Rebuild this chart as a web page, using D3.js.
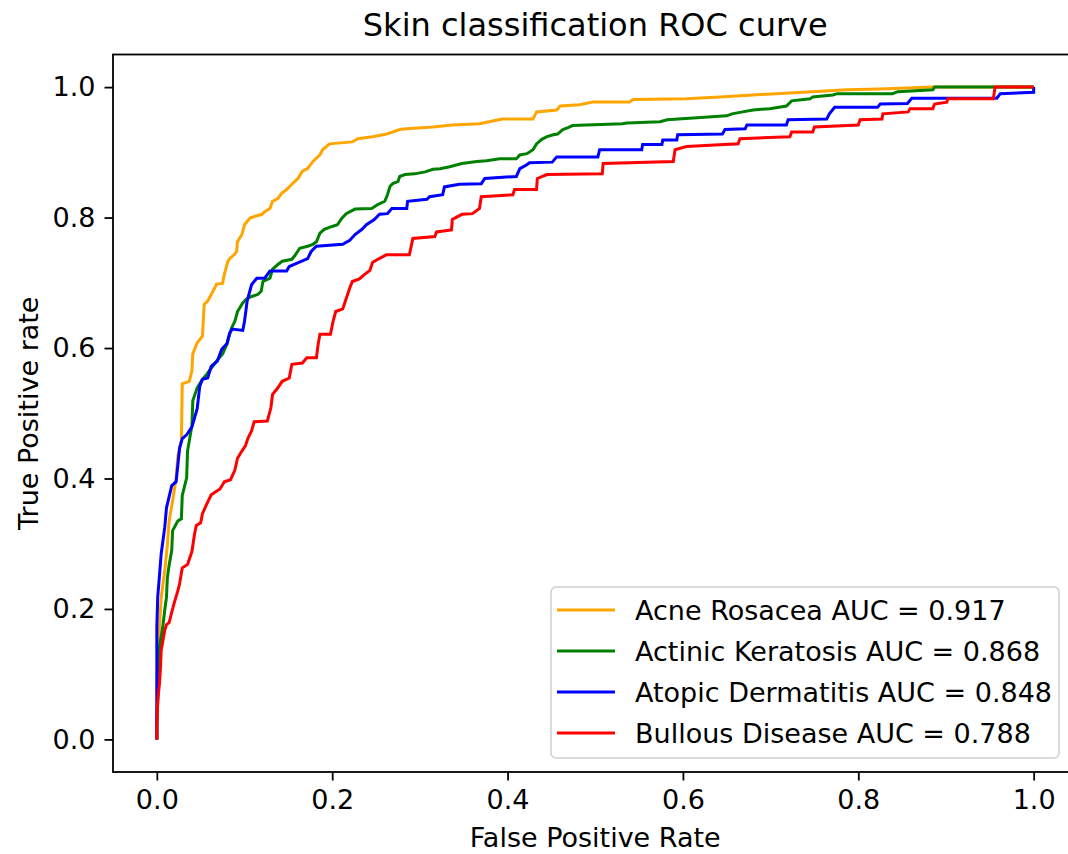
<!DOCTYPE html>
<html>
<head>
<meta charset="utf-8">
<script src="https://cdn.jsdelivr.net/npm/d3@7"></script>
<style>
    body { margin: 0; background: #fff; }
    svg text { font-family: "DejaVu Sans", sans-serif; fill: #000; }
</style>
</head>
<body>
<div id="chart"></div>
<script>
// ROC points, [false positive rate, true positive rate]
const acneRosacea = [
    [0, 0], [0, 0.060], [0.001, 0.121], [0.003, 0.172], [0.005, 0.218], [0.009, 0.259],
    [0.012, 0.297], [0.014, 0.335], [0.018, 0.366], [0.022, 0.400], [0.024, 0.435],
    [0.028, 0.458], [0.029, 0.545], [0.037, 0.549], [0.040, 0.565], [0.041, 0.591],
    [0.046, 0.608], [0.052, 0.618], [0.054, 0.667], [0.058, 0.672], [0.066, 0.692],
    [0.068, 0.698], [0.075, 0.699], [0.077, 0.713], [0.081, 0.733], [0.083, 0.737],
    [0.089, 0.744], [0.091, 0.748], [0.092, 0.763], [0.097, 0.774], [0.100, 0.789],
    [0.106, 0.799], [0.112, 0.802], [0.120, 0.805], [0.123, 0.809], [0.129, 0.814],
    [0.132, 0.825], [0.138, 0.829], [0.142, 0.837], [0.148, 0.843], [0.154, 0.851],
    [0.161, 0.860], [0.166, 0.871], [0.172, 0.875], [0.178, 0.886], [0.186, 0.896],
    [0.189, 0.904], [0.197, 0.913], [0.223, 0.916], [0.229, 0.921], [0.246, 0.924],
    [0.262, 0.928], [0.277, 0.935], [0.285, 0.936], [0.315, 0.939], [0.337, 0.942],
    [0.368, 0.944], [0.383, 0.948], [0.394, 0.951], [0.429, 0.951], [0.433, 0.962],
    [0.456, 0.965], [0.460, 0.971], [0.482, 0.973], [0.497, 0.977], [0.539, 0.977],
    [0.543, 0.981], [0.604, 0.982], [0.642, 0.985], [0.680, 0.988], [0.722, 0.991],
    [0.787, 0.996], [0.825, 0.997], [0.885, 1.0], [1, 1]
];

const actinicKeratosis = [
    [0, 0], [0, 0.030], [0.001, 0.055], [0.003, 0.121], [0.003, 0.141], [0.007, 0.175],
    [0.009, 0.198], [0.011, 0.218], [0.012, 0.248], [0.014, 0.267], [0.017, 0.290],
    [0.018, 0.320], [0.024, 0.335], [0.028, 0.338], [0.029, 0.374], [0.034, 0.401],
    [0.035, 0.442], [0.040, 0.481], [0.041, 0.519], [0.046, 0.539], [0.052, 0.552],
    [0.057, 0.560], [0.062, 0.569], [0.068, 0.580], [0.075, 0.591], [0.080, 0.606],
    [0.085, 0.630], [0.089, 0.641], [0.092, 0.656], [0.098, 0.669], [0.102, 0.675],
    [0.108, 0.679], [0.115, 0.682], [0.119, 0.687], [0.121, 0.702], [0.129, 0.707],
    [0.132, 0.721], [0.138, 0.728], [0.143, 0.733], [0.154, 0.736], [0.157, 0.741],
    [0.163, 0.753], [0.172, 0.756], [0.178, 0.759], [0.182, 0.763], [0.186, 0.776],
    [0.191, 0.782], [0.199, 0.786], [0.206, 0.789], [0.211, 0.799], [0.216, 0.806],
    [0.226, 0.813], [0.245, 0.814], [0.252, 0.820], [0.260, 0.825], [0.263, 0.835],
    [0.266, 0.848], [0.269, 0.852], [0.275, 0.855], [0.277, 0.863], [0.283, 0.866],
    [0.294, 0.867], [0.306, 0.870], [0.315, 0.874], [0.323, 0.875], [0.334, 0.878],
    [0.348, 0.883], [0.365, 0.886], [0.376, 0.887], [0.391, 0.890], [0.410, 0.890],
    [0.414, 0.896], [0.422, 0.898], [0.429, 0.904], [0.433, 0.913], [0.439, 0.920],
    [0.445, 0.924], [0.452, 0.927], [0.457, 0.928], [0.463, 0.935], [0.469, 0.938],
    [0.474, 0.941], [0.490, 0.942], [0.531, 0.944], [0.536, 0.945], [0.574, 0.947],
    [0.582, 0.950], [0.616, 0.953], [0.650, 0.956], [0.656, 0.959], [0.668, 0.962],
    [0.680, 0.965], [0.699, 0.967], [0.718, 0.971], [0.724, 0.979], [0.745, 0.982],
    [0.748, 0.985], [0.771, 0.988], [0.776, 0.990], [0.839, 0.990], [0.845, 0.993],
    [0.885, 0.996], [0.887, 1.0], [1, 1]
];

const atopicDermatitis = [
    [0, 0], [0, 0.172], [0.001, 0.218], [0.003, 0.251], [0.005, 0.285], [0.009, 0.325],
    [0.011, 0.355], [0.017, 0.389], [0.022, 0.395], [0.026, 0.447], [0.029, 0.461],
    [0.034, 0.467], [0.040, 0.479], [0.043, 0.493], [0.046, 0.507], [0.049, 0.542],
    [0.052, 0.552], [0.058, 0.554], [0.062, 0.572], [0.069, 0.580], [0.074, 0.598],
    [0.080, 0.607], [0.083, 0.623], [0.086, 0.629], [0.098, 0.627], [0.100, 0.641],
    [0.103, 0.672], [0.108, 0.697], [0.114, 0.707], [0.123, 0.707], [0.129, 0.718],
    [0.148, 0.718], [0.151, 0.725], [0.160, 0.730], [0.172, 0.737], [0.176, 0.748],
    [0.182, 0.756], [0.212, 0.759], [0.220, 0.765], [0.226, 0.774], [0.234, 0.782],
    [0.239, 0.789], [0.248, 0.797], [0.254, 0.805], [0.263, 0.806], [0.268, 0.814],
    [0.285, 0.814], [0.286, 0.825], [0.308, 0.828], [0.311, 0.832], [0.326, 0.835],
    [0.328, 0.847], [0.345, 0.851], [0.370, 0.852], [0.374, 0.860], [0.410, 0.863],
    [0.414, 0.875], [0.422, 0.881], [0.425, 0.884], [0.451, 0.885], [0.456, 0.893],
    [0.503, 0.893], [0.505, 0.904], [0.553, 0.904], [0.554, 0.912], [0.576, 0.912],
    [0.577, 0.919], [0.593, 0.919], [0.594, 0.927], [0.645, 0.928], [0.648, 0.935],
    [0.671, 0.936], [0.673, 0.942], [0.718, 0.942], [0.720, 0.950], [0.764, 0.951],
    [0.767, 0.959], [0.773, 0.969], [0.822, 0.969], [0.825, 0.974], [0.856, 0.975],
    [0.861, 0.983], [0.958, 0.983], [0.962, 0.990], [1, 0.992], [1, 1]
];

const bullousDisease = [
    [0, 0], [0, 0.019], [0.001, 0.060], [0.003, 0.086], [0.004, 0.106], [0.005, 0.137],
    [0.009, 0.167], [0.011, 0.176], [0.014, 0.179], [0.017, 0.195], [0.020, 0.210],
    [0.024, 0.228], [0.026, 0.239], [0.029, 0.263], [0.035, 0.268], [0.040, 0.288],
    [0.043, 0.315], [0.045, 0.328], [0.050, 0.332], [0.052, 0.346], [0.057, 0.361],
    [0.062, 0.375], [0.072, 0.384], [0.077, 0.395], [0.084, 0.398], [0.089, 0.413],
    [0.092, 0.431], [0.097, 0.442], [0.101, 0.450], [0.104, 0.462], [0.108, 0.473],
    [0.111, 0.487], [0.126, 0.488], [0.130, 0.508], [0.132, 0.529], [0.138, 0.539],
    [0.143, 0.549], [0.151, 0.554], [0.154, 0.575], [0.166, 0.577], [0.171, 0.585],
    [0.182, 0.585], [0.184, 0.606], [0.186, 0.621], [0.198, 0.621], [0.201, 0.641],
    [0.204, 0.656], [0.212, 0.660], [0.216, 0.676], [0.220, 0.692], [0.223, 0.702],
    [0.231, 0.706], [0.237, 0.713], [0.243, 0.719], [0.246, 0.731], [0.252, 0.736],
    [0.262, 0.743], [0.288, 0.743], [0.292, 0.768], [0.317, 0.771], [0.319, 0.778],
    [0.336, 0.781], [0.337, 0.797], [0.348, 0.805], [0.360, 0.806], [0.368, 0.814],
    [0.370, 0.832], [0.406, 0.835], [0.408, 0.843], [0.433, 0.843], [0.434, 0.860],
    [0.445, 0.866], [0.508, 0.867], [0.509, 0.883], [0.589, 0.886], [0.591, 0.904],
    [0.604, 0.909], [0.663, 0.913], [0.665, 0.921], [0.722, 0.924], [0.724, 0.931],
    [0.748, 0.931], [0.750, 0.939], [0.800, 0.942], [0.802, 0.950], [0.827, 0.951],
    [0.828, 0.959], [0.857, 0.962], [0.859, 0.967], [0.885, 0.967], [0.887, 0.974],
    [0.901, 0.977], [0.902, 0.982], [0.954, 0.982], [0.956, 1.0], [1, 1]
];

const classNames = ["Acne Rosacea", "Actinic Keratosis", "Atopic Dermatitis", "Bullous Disease"];
const aucValues = [0.917, 0.868, 0.848, 0.788];
const classColors = ["orange", "green", "blue", "red"];
const rocCurves = [acneRosacea, actinicKeratosis, atopicDermatitis, bullousDisease];
const tickValues = [0, 0.2, 0.4, 0.6, 0.8, 1.0];

const width = 1068, height = 854;
const margin = { top: 54.5, right: -9.5, bottom: 82, left: 113 };
const plotW = width - margin.left - margin.right;
const plotH = height - margin.top - margin.bottom;

const svg = d3.select("#chart").append("svg")
    .attr("width", width)
    .attr("height", height);

const x = d3.scaleLinear().domain([-0.05, 1.05]).range([margin.left, margin.left + plotW]);
const y = d3.scaleLinear().domain([-0.05, 1.05]).range([margin.top + plotH, margin.top]);

// curves
const line = d3.line()
    .x(d => x(d[0]))
    .y(d => y(d[1]));

svg.append("g").selectAll("path")
    .data(rocCurves)
    .enter().append("path")
    .attr("d", line)
    .attr("fill", "none")
    .attr("stroke", (d, i) => classColors[i])
    .attr("stroke-width", 3)
    .attr("stroke-linejoin", "miter");

// axes
const xAxis = d3.axisBottom(x).tickValues(tickValues).tickFormat(d3.format(".1f"))
    .tickSize(8.5).tickPadding(8);
const yAxis = d3.axisLeft(y).tickValues(tickValues).tickFormat(d3.format(".1f"))
    .tickSize(8.5).tickPadding(9);

const gx = svg.append("g")
    .attr("transform", `translate(0,${margin.top + plotH})`)
    .call(xAxis);
const gy = svg.append("g")
    .attr("transform", `translate(${margin.left},0)`)
    .call(yAxis);

[gx, gy].forEach(g => {
    g.select(".domain").remove();
    g.selectAll(".tick line").attr("stroke", "#000").attr("stroke-width", 1.8);
    g.selectAll(".tick text").style("font-size", "27px").attr("fill", "#000");
});
gx.selectAll(".tick text").attr("dy", "0.75em");

// spines
svg.append("rect")
    .attr("x", margin.left)
    .attr("y", margin.top)
    .attr("width", plotW)
    .attr("height", plotH)
    .attr("fill", "none")
    .attr("stroke", "#000")
    .attr("stroke-width", 1.8);

// title and labels
svg.append("text")
    .attr("x", margin.left + plotW / 2)
    .attr("y", 36)
    .attr("text-anchor", "middle")
    .style("font-size", "32px")
    .text("Skin classification ROC curve");

svg.append("text")
    .attr("x", margin.left + plotW / 2)
    .attr("y", 847)
    .attr("text-anchor", "middle")
    .style("font-size", "27px")
    .text("False Positive Rate");

svg.append("text")
    .attr("transform", `translate(38,${margin.top + plotH / 2}) rotate(-90)`)
    .attr("text-anchor", "middle")
    .style("font-size", "27px")
    .text("True Positive rate");

// legend
const legend = svg.append("g")
    .attr("transform", "translate(551,587)");

legend.append("rect")
    .attr("width", 508)
    .attr("height", 171)
    .attr("rx", 5)
    .attr("fill", "#fff")
    .attr("fill-opacity", 0.8)
    .attr("stroke", "#d0d0d0")
    .attr("stroke-width", 1.5);

legend.selectAll(".legend-item")
    .data(classNames)
    .enter().append("g")
    .attr("class", "legend-item")
    .attr("transform", (d, i) => `translate(0,${23 + i * 41})`)
    .each(function (d, i) {
        let item = d3.select(this);
        item.append("line")
            .attr("x1", 6).attr("x2", 64)
            .attr("stroke", classColors[i])
            .attr("stroke-width", 3);
        item.append("text")
            .attr("x", 84)
            .attr("y", 9.5)
            .style("font-size", "27px")
            .text(`${d} AUC = ${aucValues[i].toFixed(3)}`);
    });
</script>
</body>
</html>
